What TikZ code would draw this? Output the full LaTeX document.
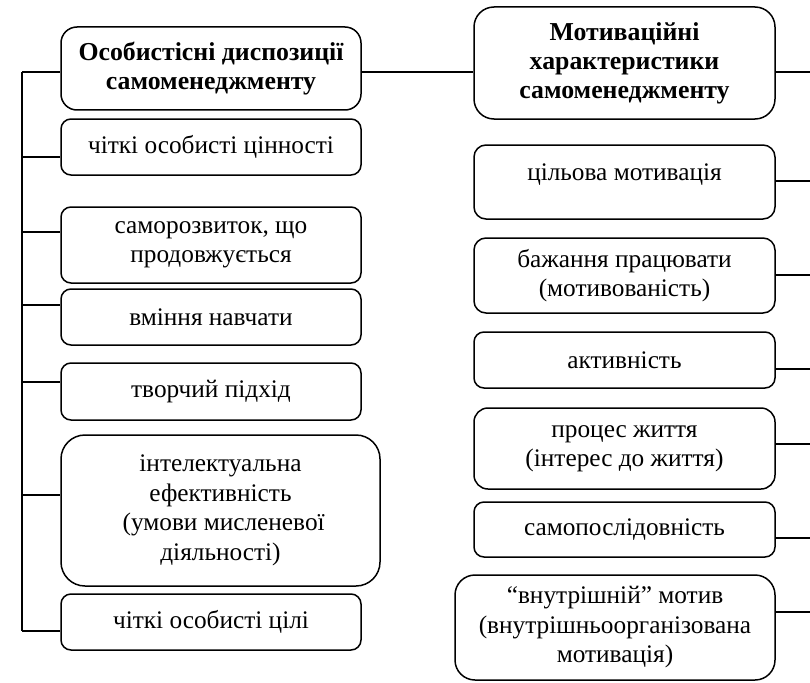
\documentclass[tikz,border=0pt]{standalone}
\usepackage{fontspec}
\setmainfont{Liberation Serif}

\begin{document}
\begin{tikzpicture}[
    x=1pt, y=-1pt,
    font=\fontsize{25.3}{29.5}\selectfont,
    item/.style={draw, line width=1.5pt, rounded corners=10pt, align=center,
                 inner sep=0pt, minimum width=300pt, minimum height=56pt},
    head/.style={item, font=\fontsize{25.8}{29}\selectfont\bfseries, rounded corners=16pt},
    link/.style={line width=1.5pt}
]
\useasboundingbox (0,0) rectangle (810,682);

% left column: personal dispositions
\node[head, minimum height=83pt] (lhead) at (211, 68.5) {Особистісні диспозиції\\самоменеджменту};
\node[item] (l1) at (211, 147) {чіткі особисті цінності};
\node[item, minimum height=76pt] (l2) at (211, 245) {саморозвиток, що\\продовжується};
\node[item] (l3) at (211, 317) {вміння навчати};
\node[item, minimum height=57pt] (l4) at (211, 391.5) {творчий підхід};
\node[item, minimum width=319pt, minimum height=151pt, rounded corners=24pt] (l5)
    at (220.5, 510.5) {інтелектуальна\\ефективність\\\ (умови мисленевої\\діяльності)};
\node[item] (l6) at (211, 622) {чіткі особисті цілі};

% right column: motivational characteristics
\node[head, minimum width=301pt, minimum height=112pt, rounded corners=20pt] (rhead)
    at (624.5, 63) {Мотиваційні\\характеристики\\самоменеджменту};
\node[item, minimum width=301pt, minimum height=74pt, rounded corners=12pt,
      text height=17pt, text depth=21pt] (r1) at (624.5, 182) {цільова мотивація};
\node[item, minimum width=301pt, minimum height=75pt, rounded corners=12pt] (r2)
    at (624.5, 275.5) {бажання працювати\\(мотивованість)};
\node[item, minimum width=301pt] (r3) at (624.5, 360) {активність};
\node[item, minimum width=301pt, minimum height=81pt, rounded corners=14pt] (r4)
    at (624.5, 448.5) {процес життя\\(інтерес до життя)};
\node[item, minimum width=301pt, minimum height=55pt] (r5) at (624.5, 529.5) {самопослідовність};
\node[item, minimum width=320pt, minimum height=105pt, rounded corners=20pt] (r6)
    at (615, 627.5) {“внутрішній” мотив\\(внутрішньоорганізована\\мотивація)};

% junction points on the left spine
\coordinate (lj0) at (22, 72);
\coordinate (lj1) at (22, 157);
\coordinate (lj2) at (22, 232);
\coordinate (lj3) at (22, 305);
\coordinate (lj4) at (22, 382);
\coordinate (lj5) at (22, 495);
\coordinate (lj6) at (22, 631);

% free ends at the right margin
\coordinate (rj0) at (810, 72);
\coordinate (rj1) at (810, 181);
\coordinate (rj2) at (810, 275);
\coordinate (rj3) at (810, 369);
\coordinate (rj4) at (810, 444);
\coordinate (rj5) at (810, 538);
\coordinate (rj6) at (810, 612);

% left spine and branches
\draw[link] (lj0) -- (lj6);
\draw[link] (lj0) -- (lj0 -| lhead.west);
\draw[link] (lj1) -- (lj1 -| l1.west);
\draw[link] (lj2) -- (lj2 -| l2.west);
\draw[link] (lj3) -- (lj3 -| l3.west);
\draw[link] (lj4) -- (lj4 -| l4.west);
\draw[link] (lj5) -- (lj5 -| l5.west);
\draw[link] (lj6) -- (lj6 -| l6.west);

% heads joined
\draw[link] (lj0 -| lhead.east) -- (lj0 -| rhead.west);

% right branches
\draw[link] (rj0 -| rhead.east) -- (rj0);
\draw[link] (rj1 -| r1.east) -- (rj1);
\draw[link] (rj2 -| r2.east) -- (rj2);
\draw[link] (rj3 -| r3.east) -- (rj3);
\draw[link] (rj4 -| r4.east) -- (rj4);
\draw[link] (rj5 -| r5.east) -- (rj5);
\draw[link] (rj6 -| r6.east) -- (rj6);

\end{tikzpicture}
\end{document}
